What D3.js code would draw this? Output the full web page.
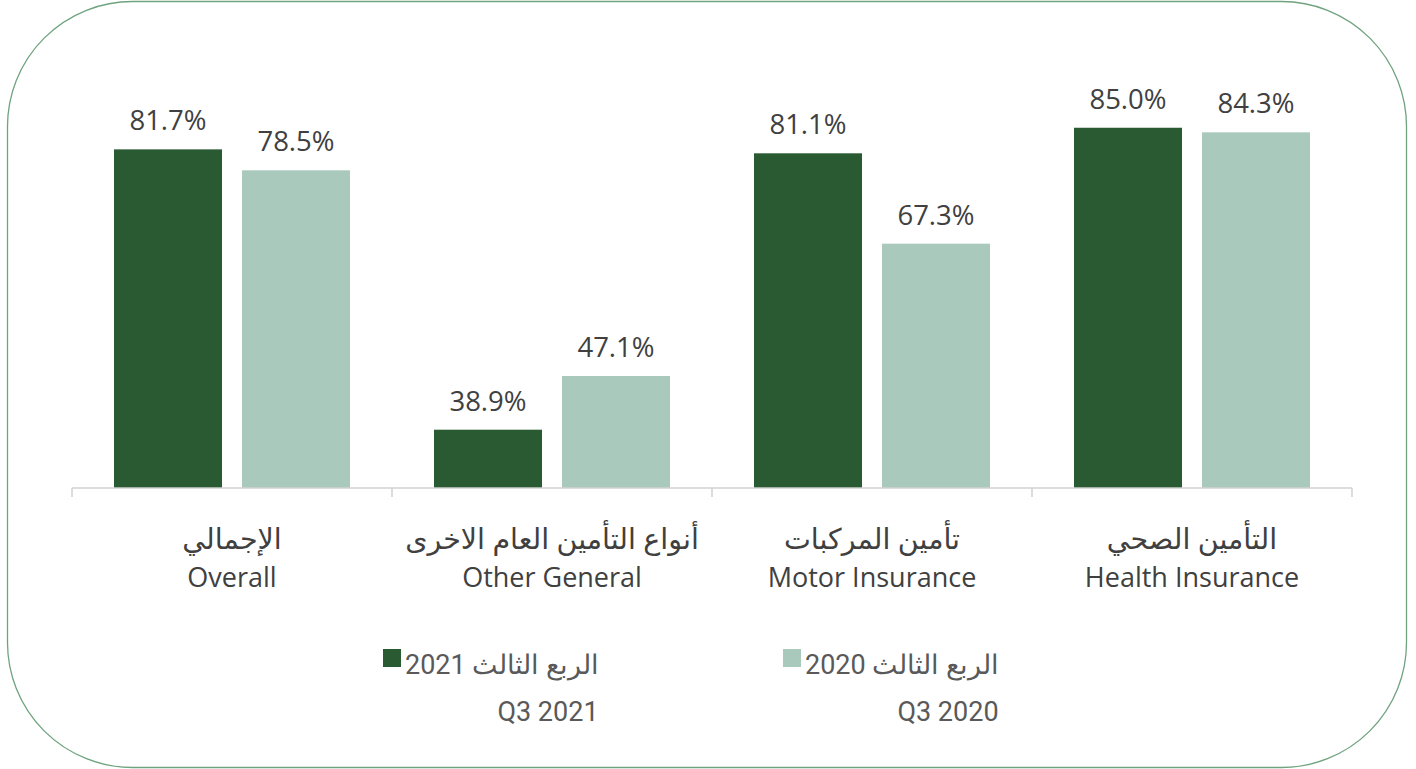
<!DOCTYPE html>
<html>
<head>
<meta charset="utf-8">
<script src="https://cdn.jsdelivr.net/npm/d3@7"></script>
<style>
  body { margin: 0; background: #fff; }
  svg { display: block; font-family: "Open Sans", "DejaVu Sans", sans-serif; }
  .value { font-size: 27.5px; fill: #404040; }
  .cat-ar { font-size: 28.5px; fill: #404040; }
  .cat-en { font-size: 27px; fill: #404040; }
  .legend-text { font-family: "Liberation Sans Narrow", "Roboto", sans-serif; font-size: 27px; fill: #595959; }
</style>
</head>
<body>
<svg id="chart" width="1416" height="769"></svg>
<script>
const width = 1416;
const height = 769;

// data
const categories = ["Overall", "Other General", "Motor Insurance", "Health Insurance"];
const categoriesAr = ["الإجمالي", "أنواع التأمين العام الاخرى", "تأمين المركبات", "التأمين الصحي"];
const seriesKeys = ["q3_2021", "q3_2020"];
const seriesAr = ["الربع الثالث 2021", "الربع الثالث 2020"];
const seriesEn = ["Q3 2021", "Q3 2020"];
const q3_2021 = [81.7, 38.9, 81.1, 85.0];
const q3_2020 = [78.5, 47.1, 67.3, 84.3];
const colors = ["#2a5a32", "#a8c9bc"];

const svg = d3.select("#chart");

// frame
svg
  .append("rect")
  .attr("x", 7.5)
  .attr("y", 1.5)
  .attr("width", 1399)
  .attr("height", 766)
  .attr("rx", 125)
  .attr("ry", 125)
  .attr("fill", "none")
  .attr("stroke", "#6fa37f")
  .attr("stroke-width", 1.3);

// scales
const x = d3.scaleBand().domain(categories).range([72, 1352]);

const xSub = d3
  .scaleBand()
  .domain(seriesKeys)
  .range([42, 278])
  .paddingInner(20 / 128);

const y = d3.scaleLinear().domain([30, 90]).range([488, 95]);

const rows = categories.map((c, i) => ({
  cat: c,
  ar: categoriesAr[i],
  values: [
    { key: "q3_2021", value: q3_2021[i] },
    { key: "q3_2020", value: q3_2020[i] },
  ],
}));

const color = d3.scaleOrdinal().domain(seriesKeys).range(colors);

// bars
const groups = svg
  .append("g")
  .selectAll("g")
  .data(rows)
  .join("g")
  .attr("transform", (d) => `translate(${x(d.cat)},0)`);

groups
  .selectAll("rect")
  .data((d) => d.values)
  .join("rect")
  .attr("x", (d) => xSub(d.key))
  .attr("y", (d) => y(d.value))
  .attr("width", xSub.bandwidth())
  .attr("height", (d) => y(30) - y(d.value))
  .attr("fill", (d) => color(d.key));

groups
  .selectAll("text.value")
  .data((d) => d.values)
  .join("text")
  .attr("class", "value")
  .attr("text-anchor", "middle")
  .attr("x", (d) => xSub(d.key) + xSub.bandwidth() / 2)
  .attr("y", (d) => y(d.value) - 19)
  .text((d) => d.value.toFixed(1) + "%");

// axis
const axisG = svg
  .append("g")
  .attr("transform", `translate(0,${y(30)})`)
  .call(d3.axisBottom(x).tickSize(0).tickFormat(""));
axisG
  .select(".domain")
  .attr("stroke", "#d0d0d0")
  .attr("stroke-width", 1.5)
  .attr("d", `M${x.range()[0]},0H${x.range()[1]}`);
axisG.selectAll(".tick").remove();

const bounds = categories.map((c) => x(c)).concat([x.range()[1]]);
axisG
  .selectAll("line.bound")
  .data(bounds)
  .join("line")
  .attr("class", "bound")
  .attr("x1", (d) => d)
  .attr("x2", (d) => d)
  .attr("y1", 0)
  .attr("y2", 9)
  .attr("stroke", "#d0d0d0")
  .attr("stroke-width", 1.5);

// category labels
const labels = svg
  .append("g")
  .selectAll("g")
  .data(rows)
  .join("g")
  .attr("transform", (d) => `translate(${x(d.cat) + x.bandwidth() / 2},0)`);

labels
  .append("text")
  .attr("class", "cat-ar")
  .attr("text-anchor", "middle")
  .attr("direction", "rtl")
  .attr("y", 549)
  .text((d) => d.ar);

labels
  .append("text")
  .attr("class", "cat-en")
  .attr("text-anchor", "middle")
  .attr("y", 587)
  .text((d) => d.cat);

// legend
const legendX = [383, 783];
const legend = svg
  .append("g")
  .selectAll("g")
  .data(seriesKeys)
  .join("g")
  .attr("transform", (d, i) => `translate(${legendX[i]},0)`);

legend
  .append("rect")
  .attr("x", 0)
  .attr("y", 649)
  .attr("width", 18)
  .attr("height", 18)
  .attr("fill", (d) => color(d));

legend
  .append("text")
  .attr("class", "legend-text")
  .attr("x", 22)
  .attr("y", 674)
  .text((d, i) => seriesAr[i]);

legend
  .append("text")
  .attr("class", "legend-text")
  .attr("text-anchor", "middle")
  .attr("x", 165)
  .attr("y", 721)
  .text((d, i) => seriesEn[i]);
</script>
</body>
</html>
